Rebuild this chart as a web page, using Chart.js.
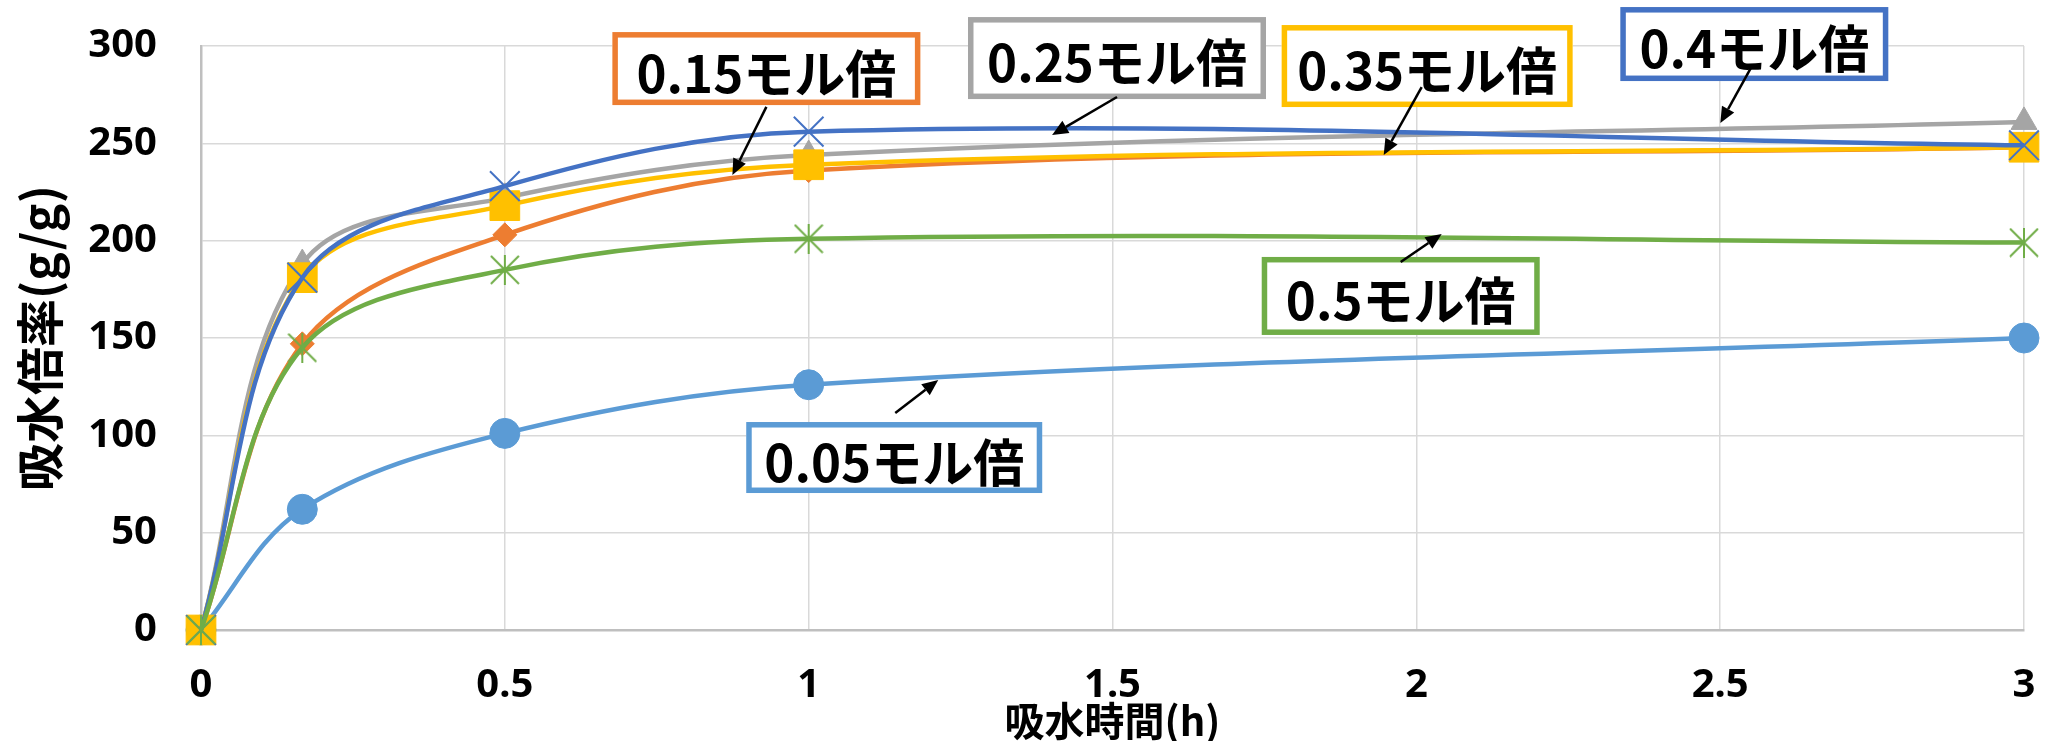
<!DOCTYPE html>
<html>
<head>
<meta charset="utf-8">
<script src="https://cdn.jsdelivr.net/npm/chart.js@4/dist/chart.umd.min.js"></script>
<style>
body { margin: 0; background: #fff; }
#wrap { width: 2047px; height: 741px; }
</style>
</head>
<body>
<div id="wrap"><canvas id="myChart" width="2047" height="741"></canvas></div>
<script>
// time (h): 0, 10 min, 30 min, 1 h, 3 h
var hours = [0, 0.1667, 0.5, 1, 3];

// absorption ratio (g/g) per series
var mol005 = [0, 62, 101, 126, 150];
var mol015 = [0, 147, 203, 236, 248];
var mol025 = [0, 188, 222, 244, 261];
var mol035 = [0, 181, 218, 239, 248];
var mol040 = [0, 181, 228, 256, 249];
var mol050 = [0, 145, 185, 201, 199];

var seriesNames = ['0.05モル倍', '0.15モル倍', '0.25モル倍', '0.35モル倍', '0.4モル倍', '0.5モル倍'];
var seriesColors = ['#5B9BD5', '#ED7D31', '#A5A5A5', '#FFC000', '#4472C4', '#70AD47'];

var xMin = 0, xMax = 3, xStep = 0.5;
var yMin = 0, yMax = 300, yStep = 50;

// callout boxes, anchored in data units (box centre, arrow start, arrow tip)
var notes = [
  {s: 1, x: 0.9304, y: 288.4, w: 308, h: 73, from: [0.9304, 268.7], to: [0.8745, 233.7]},
  {s: 2, x: 1.5074, y: 293.8, w: 298, h: 82, from: [1.5074, 273.8], to: [1.4006, 254.3]},
  {s: 3, x: 2.0178, y: 289.7, w: 291, h: 82, from: [2.0088, 278.9], to: [1.9463, 244.0]},
  {s: 4, x: 2.5562, y: 301.0, w: 268, h: 74, from: [2.5513, 289.2], to: [2.5003, 260.4]},
  {s: 5, x: 1.9743, y: 171.6, w: 278, h: 78, from: [1.9743, 189.0], to: [2.0417, 203.4]},
  {s: 0, x: 1.1408, y: 88.6, w: 296, h: 71, from: [1.1425, 111.5], to: [1.2132, 128.4]}
];

function starMarker(color, size) {
  // excel style asterisk: X plus a vertical bar
  var c = document.createElement('canvas');
  c.width = size; c.height = size;
  var g = c.getContext('2d');
  g.strokeStyle = color;
  g.lineWidth = 2;
  g.beginPath();
  g.moveTo(1, 1); g.lineTo(size - 1, size - 1);
  g.moveTo(size - 1, 1); g.lineTo(1, size - 1);
  g.moveTo(size / 2, 0); g.lineTo(size / 2, size);
  g.stroke();
  return c;
}

function makeSet(i, values, style, radius, pbw) {
  return {
    label: seriesNames[i],
    data: hours.map(function(h, k) { return {x: h, y: values[k]}; }),
    showLine: true,
    borderColor: seriesColors[i],
    backgroundColor: seriesColors[i],
    borderWidth: 4.5,
    tension: 0.35,
    pointStyle: style,
    pointRadius: radius,
    pointHoverRadius: radius,
    pointBorderColor: seriesColors[i],
    pointBackgroundColor: seriesColors[i],
    pointBorderWidth: pbw,
    clip: false,
    order: 6 - i
  };
}

var datasets = [
  makeSet(0, mol005, 'circle', 15, 1),
  makeSet(1, mol015, 'rectRot', 12, 1),
  makeSet(2, mol025, 'triangle', 15, 1),
  makeSet(3, mol035, 'rect', 21, 1),
  makeSet(4, mol040, 'crossRot', 21, 2),
  makeSet(5, mol050, starMarker(seriesColors[5], 30), 15, 1)
];

function drawArrow(ctx, x1, y1, x2, y2) {
  var ang = Math.atan2(y2 - y1, x2 - x1);
  var len = 16, half = 7;
  var bx = x2 - Math.cos(ang) * len, by = y2 - Math.sin(ang) * len;
  ctx.strokeStyle = '#000';
  ctx.lineWidth = 2.5;
  ctx.beginPath();
  ctx.moveTo(x1, y1);
  ctx.lineTo(bx, by);
  ctx.stroke();
  ctx.fillStyle = '#000';
  ctx.beginPath();
  ctx.moveTo(x2, y2);
  ctx.lineTo(bx + Math.sin(ang) * half, by - Math.cos(ang) * half);
  ctx.lineTo(bx - Math.sin(ang) * half, by + Math.cos(ang) * half);
  ctx.closePath();
  ctx.fill();
}

var notePlugin = {
  id: 'notes',
  afterDraw: function(chart) {
    var ctx = chart.ctx, xs = chart.scales.x, ys = chart.scales.y;
    ctx.save();
    notes.forEach(function(n) {
      var cx = xs.getPixelForValue(n.x), cy = ys.getPixelForValue(n.y);
      var lw = 5.5;
      ctx.fillStyle = '#fff';
      ctx.fillRect(cx - n.w / 2, cy - n.h / 2, n.w, n.h);
      ctx.lineWidth = lw;
      ctx.strokeStyle = seriesColors[n.s];
      ctx.strokeRect(cx - n.w / 2 + lw / 2, cy - n.h / 2 + lw / 2, n.w - lw, n.h - lw);
      ctx.fillStyle = '#000';
      ctx.font = 'bold 51px "Noto Sans CJK JP"';
      ctx.textAlign = 'center';
      ctx.textBaseline = 'middle';
      ctx.fillText(seriesNames[n.s], cx, cy + 5);
      drawArrow(ctx,
        xs.getPixelForValue(n.from[0]), ys.getPixelForValue(n.from[1]),
        xs.getPixelForValue(n.to[0]), ys.getPixelForValue(n.to[1]));
    });
    ctx.restore();
  }
};

var tickFont = {family: '"Noto Sans"', size: 40, weight: 'bold'};

var ctx = document.getElementById('myChart');
var myChart = new Chart(ctx, {
  type: 'scatter',
  data: {datasets: datasets},
  plugins: [notePlugin],
  options: {
    responsive: false,
    animation: false,
    events: [],
    layout: {padding: {left: 0, right: 21, top: 46, bottom: 0}},
    plugins: {legend: {display: false}, tooltip: {enabled: false}},
    scales: {
      x: {
        type: 'linear',
        min: xMin, max: xMax,
        ticks: {
          stepSize: xStep, color: '#000', font: tickFont, padding: 32, maxRotation: 0,
          callback: function(v) { return String(v); }
        },
        grid: {color: '#D9D9D9', lineWidth: 1.5, drawTicks: false},
        border: {color: '#BFBFBF', width: 2.5},
        title: {
          display: true, text: '吸水時間(h)', color: '#000',
          font: {family: '"Noto Sans CJK JP"', size: 40, weight: 'bold', lineHeight: 1},
          padding: {top: 0, bottom: 0}
        },
        afterFit: function(scale) {
          scale.height = 111;
          scale.paddingLeft = 0;
          scale.paddingRight = 0;
        }
      },
      y: {
        type: 'linear',
        min: yMin, max: yMax,
        ticks: {stepSize: yStep, color: '#000', font: tickFont, padding: 44},
        grid: {color: '#D9D9D9', lineWidth: 1.5, drawTicks: false},
        border: {color: '#BFBFBF', width: 2.5},
        title: {
          display: true, text: '吸水倍率(g/g)', color: '#000',
          font: {family: '"Noto Sans CJK JP"', size: 48, weight: 'bold', lineHeight: 1},
          padding: {top: 16, bottom: 0}
        },
        afterFit: function(scale) {
          scale.width = 201;
          scale.paddingTop = 0;
          scale.paddingBottom = 0;
        }
      }
    }
  }
});
</script>
</body>
</html>
